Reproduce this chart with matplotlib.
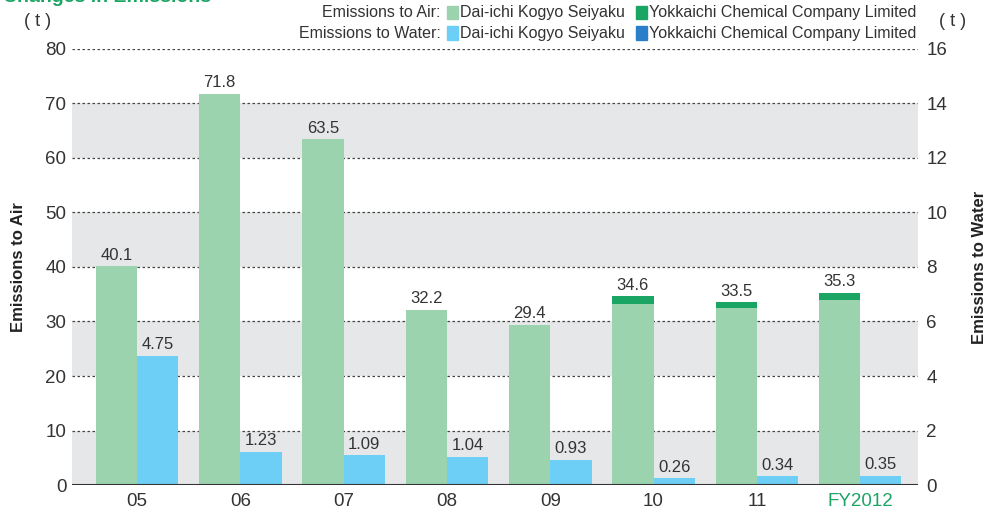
import numpy as np
import matplotlib.pyplot as plt
from matplotlib.patches import Rectangle

plt.rcParams['font.family'] = ['Liberation Sans', 'DejaVu Sans']

years = ['05', '06', '07', '08', '09', '10', '11', 'FY2012']
air_daiichi = np.array([40.1, 71.8, 63.5, 32.2, 29.4, 33.2, 32.5, 34.0])
air_yokkaichi = np.array([0, 0, 0, 0, 0, 1.4, 1.0, 1.3])
air_total = [40.1, 71.8, 63.5, 32.2, 29.4, 34.6, 33.5, 35.3]
water_daiichi = np.array([4.75, 1.23, 1.09, 1.04, 0.93, 0.26, 0.34, 0.35])
water_yokkaichi = np.array([0, 0, 0, 0, 0, 0, 0, 0])
water_labels = ['4.75', '1.23', '1.09', '1.04', '0.93', '0.26', '0.34', '0.35']

c_air1 = '#9ad3ae'
c_air2 = '#1ba564'
c_w1 = '#6dcff6'
c_w2 = '#2a7fc8'
txt = '#333333'

fig = plt.figure(figsize=(9.86, 5.09), dpi=100)
ax = fig.add_axes([0.073, 0.047, 0.858, 0.857])
ax2 = ax.twinx()

x = np.arange(len(years))
w = 0.4

# background bands and dotted grid
for lo in [0, 20, 40, 60]:
    ax.axhspan(lo, lo + 10, color='#e6e7e8', zorder=0, lw=0)
for v in range(10, 81, 10):
    ax.axhline(v, color='#444444', lw=0.9, ls=(0, (2, 2)), zorder=1)

ax.bar(x - w / 2, air_daiichi, w, color=c_air1, zorder=2)
ax.bar(x - w / 2, air_yokkaichi, w, bottom=air_daiichi, color=c_air2, zorder=2)
for i, t in enumerate(air_total):
    ax.text(x[i] - w / 2, t + 0.6, f'{t:.1f}', ha='center', va='bottom', fontsize=12, color=txt)

ax2.bar(x + w / 2, water_daiichi, w, color=c_w1, zorder=2)
ax2.bar(x + w / 2, water_yokkaichi, w, bottom=water_daiichi, color=c_w2, zorder=2)
for i, t in enumerate(water_labels):
    ax2.text(x[i] + w / 2, water_daiichi[i] + 0.12, t, ha='center', va='bottom', fontsize=12, color=txt)

ax2.axhline(0, color='#333333', lw=1.5, zorder=3)

ax.set_xlim(-0.63, 7.56)
ax.set_ylim(0, 80)
ax2.set_ylim(0, 16)
ax.set_yticks(range(0, 81, 10))
ax2.set_yticks(range(0, 17, 2))
ax.set_xticks(x)
ax.set_xticklabels(years)
for a in (ax, ax2):
    for s in a.spines.values():
        s.set_visible(False)
    a.tick_params(length=0, labelsize=13.5, colors=txt)
ax.tick_params(axis='y', pad=4)
ax.tick_params(axis='x', pad=6)
ax2.tick_params(axis='y', pad=6)
ax.get_xticklabels()[-1].set_color(c_air2)

ax.set_ylabel('Emissions to Air', fontsize=12, fontweight='bold', color='#222222', labelpad=14)
ax2.set_ylabel('Emissions to Water', fontsize=12, fontweight='bold', color='#222222', labelpad=18)

fig.text(0.038, 0.958, '( t )', fontsize=13, color=txt, ha='center', va='center')
fig.text(0.966, 0.958, '( t )', fontsize=13, color=txt, ha='center', va='center')
fig.text(0.003, 1.005, 'Changes in Emissions', fontsize=14, fontweight='bold', color=c_air2, ha='left', va='center')

# legend
rows = [('Emissions to Air:', c_air1, c_air2, 0.976), ('Emissions to Water:', c_w1, c_w2, 0.935)]
for lab, ca, cb, yy in rows:
    fig.text(0.447, yy, lab, fontsize=11.5, color=txt, ha='right', va='center')
    fig.patches.append(Rectangle((0.4535, yy - 0.013), 0.0115, 0.026, transform=fig.transFigure, color=ca))
    fig.text(0.4665, yy, 'Dai-ichi Kogyo Seiyaku', fontsize=11.5, color=txt, ha='left', va='center')
    fig.patches.append(Rectangle((0.645, yy - 0.013), 0.0115, 0.026, transform=fig.transFigure, color=cb))
    fig.text(0.658, yy, 'Yokkaichi Chemical Company Limited', fontsize=11.5, color=txt, ha='left', va='center')

fig.savefig('out.png', dpi=100)
